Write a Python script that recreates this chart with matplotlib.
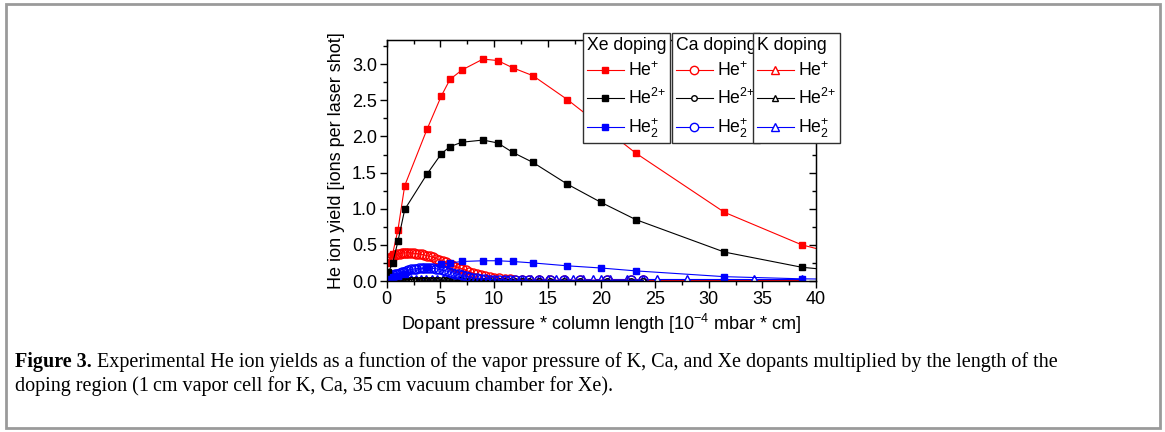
import matplotlib
matplotlib.use("Agg")
import matplotlib.pyplot as plt
from matplotlib.lines import Line2D
from matplotlib.patches import Rectangle
from matplotlib.ticker import MultipleLocator

plt.rcParams['font.family'] = ['Liberation Sans', 'DejaVu Sans']
plt.rcParams['mathtext.default'] = 'regular'

# ---------------- data ----------------
x_xe = [0.15, 0.56, 1.05, 1.68, 3.76, 5.09, 5.90, 7.02, 8.97, 10.34, 11.74, 13.63,
        16.83, 19.94, 23.20, 31.47, 38.68, 45.0]
xe_he1 = [0.25, 0.38, 0.71, 1.32, 2.10, 2.56, 2.79, 2.92, 3.07, 3.05, 2.95, 2.84,
          2.51, 2.15, 1.77, 0.95, 0.50, 0.26]
xe_he2 = [0.12, 0.25, 0.55, 0.99, 1.48, 1.76, 1.86, 1.92, 1.95, 1.91, 1.78, 1.64,
          1.34, 1.09, 0.85, 0.40, 0.19, 0.10]
xe_he2p = [0.03, 0.05, 0.07, 0.10, 0.19, 0.23, 0.25, 0.27, 0.28, 0.28, 0.27, 0.25,
           0.21, 0.18, 0.14, 0.06, 0.03, 0.02]

x_ca = [0.0, 0.2, 0.4, 0.6, 0.8, 1.0, 1.2, 1.4, 1.6, 1.8, 2.0, 2.25, 2.5, 2.75,
        3.0, 3.25, 3.5, 3.75, 4.0, 4.3, 4.6, 4.9, 5.2, 5.5, 5.8, 6.1, 6.4, 6.7,
        7.0, 7.35, 7.7, 8.05, 8.4, 8.8, 9.2, 9.6, 10.0, 10.5, 11.0, 11.5, 12.0,
        12.6, 13.3, 14.2, 15.2, 16.5, 18.0, 20.5, 22.8, 23.9]
ca_he1 = [0.27, 0.30, 0.33, 0.35, 0.36, 0.37, 0.38, 0.385, 0.39, 0.39, 0.39, 0.39,
          0.385, 0.38, 0.375, 0.37, 0.36, 0.35, 0.34, 0.33, 0.31, 0.29, 0.275,
          0.26, 0.24, 0.22, 0.20, 0.185, 0.17, 0.15, 0.13, 0.11, 0.095, 0.08,
          0.065, 0.055, 0.045, 0.035, 0.03, 0.025, 0.02, 0.02, 0.015, 0.015,
          0.01, 0.01, 0.01, 0.01, 0.01, 0.01]
ca_he2 = [0.13, 0.10, 0.08, 0.06, 0.05, 0.04, 0.035, 0.03, 0.025, 0.02, 0.02, 0.02,
          0.015, 0.015, 0.015, 0.01, 0.01, 0.01, 0.01, 0.01, 0.01, 0.01, 0.01,
          0.01, 0.01, 0.01, 0.01, 0.01, 0.01, 0.005, 0.005, 0.005, 0.005, 0.005,
          0.005, 0.005, 0.005, 0.005, 0.005, 0.005, 0.005, 0.005, 0.005, 0.005,
          0.005, 0.005, 0.005, 0.005, 0.005, 0.005]
ca_he2p = [0.05, 0.06, 0.07, 0.08, 0.09, 0.10, 0.11, 0.12, 0.13, 0.14, 0.15, 0.16,
           0.165, 0.17, 0.175, 0.18, 0.18, 0.18, 0.18, 0.175, 0.17, 0.16, 0.15,
           0.14, 0.13, 0.115, 0.10, 0.09, 0.08, 0.065, 0.055, 0.045, 0.035, 0.03,
           0.025, 0.02, 0.015, 0.015, 0.01, 0.01, 0.01, 0.01, 0.01, 0.01, 0.01,
           0.01, 0.01, 0.01, 0.01, 0.01]

x_k = [0.3, 0.6, 0.9, 1.2, 1.5, 1.9, 2.3, 2.7, 3.2, 3.7, 4.2, 4.7, 5.2, 5.7, 6.3,
       6.9, 7.5, 8.1, 8.8, 9.5, 10.2, 10.9, 11.8, 12.6, 13.4, 14.2, 15.0, 15.8,
       16.6, 17.4, 18.3, 19.2, 20.0, 20.8, 22.4, 23.9, 25.2, 28.0, 31.4, 34.2, 38.7]
k_he1 = [0.01] * 41
k_he2 = [0.005] * 41
k_he2p = [0.03] * 41

xticks = [0, 5, 10, 15, 20, 25, 30, 35, 40]
yticks = [0.0, 0.5, 1.0, 1.5, 2.0, 2.5, 3.0]
labels = ['He$^{+}$', 'He$^{2{+}}$', 'He$_{2}^{+}$']
colors = ['red', 'black', 'blue']

FS = 13
LFS = 12.7

# ---------------- figure ----------------
W, H = 1165, 432
fig = plt.figure(figsize=(W / 100, H / 100), dpi=100)
fig.patches.append(Rectangle((6 / W, 4 / H), (1160 - 6) / W, (428 - 4) / H,
                             transform=fig.transFigure, fill=False,
                             edgecolor='#9a9a9a', lw=2))

ax = fig.add_axes([386.7 / W, 1 - 281 / H, (816 - 386.7) / W, (281 - 40.3) / H])

lw = 0.8
# K doping (triangles)
for ys, c in zip([k_he1, k_he2, k_he2p], colors):
    ax.plot(x_k, ys, color=c, lw=lw, marker='^', ms=6, mfc='white', mec=c, mew=1)
# Ca doping (circles)
for ys, c, ms in zip([ca_he1, ca_he2, ca_he2p], colors, [6.5, 4, 6.5]):
    ax.plot(x_ca, ys, color=c, lw=lw, marker='o', ms=ms, mfc='none', mec=c, mew=1)
# Xe doping (squares)
for ys, c in zip([xe_he1, xe_he2, xe_he2p], colors):
    ax.plot(x_xe, ys, color=c, lw=lw, marker='s', ms=5, mfc=c, mec=c)

ax.set_xlim(0, 40)
ax.set_ylim(0, 3.33)
ax.set_xticks(xticks)
ax.set_yticks(yticks)
ax.set_xticklabels([str(v) for v in xticks])
ax.set_yticklabels([f'{v:.1f}' for v in yticks])
ax.xaxis.set_minor_locator(MultipleLocator(2.5))
ax.yaxis.set_minor_locator(MultipleLocator(0.25))
ax.tick_params(which='both', direction='out', labelsize=FS, top=False, right=False)
ax.tick_params(which='major', length=5, width=1, pad=2)
ax.tick_params(which='minor', length=3, width=1)
for s in ax.spines.values():
    s.set_linewidth(1)

# mirrored inward ticks on top/right
axt = ax.secondary_xaxis('top')
axt.set_xticks(xticks)
axt.xaxis.set_minor_locator(MultipleLocator(2.5))
axt.tick_params(which='both', direction='in', labeltop=False)
axt.tick_params(which='major', length=5, width=1)
axt.tick_params(which='minor', length=3, width=1)
axr = ax.secondary_yaxis('right')
axr.set_yticks(yticks)
axr.yaxis.set_minor_locator(MultipleLocator(0.25))
axr.tick_params(which='both', direction='in', labelright=False)
axr.tick_params(which='major', length=5, width=1)
axr.tick_params(which='minor', length=3, width=1)

ax.set_xlabel('Dopant pressure * column length [10$^{-4}$ mbar * cm]', fontsize=FS, labelpad=3)
ax.set_ylabel('He ion yield [ions per laser shot]', fontsize=FS, labelpad=5)

# ---------------- legends ----------------
def make_legend(title, marker, ms_list, filled, x0):
    handles = []
    for c, ms in zip(colors, ms_list):
        handles.append(Line2D([], [], color=c, lw=lw, marker=marker, ms=ms,
                              mfc=c if filled else 'white', mec=c, mew=1))
    leg = fig.legend(handles, labels, title=title, loc='upper left',
                     bbox_to_anchor=(x0 / W, 1 - 33 / H), fontsize=LFS,
                     title_fontsize=LFS, frameon=True, fancybox=False,
                     edgecolor='#303030', framealpha=1, borderpad=0.2,
                     handlelength=2.1, handletextpad=0.25, labelspacing=0.45,
                     borderaxespad=0)
    leg.get_frame().set_linewidth(1)
    leg._legend_box.align = 'left'
    return leg

make_legend('Xe doping', 's', [5, 5, 5], True, 583)
make_legend('Ca doping', 'o', [6, 4, 6], False, 672)
make_legend('K doping', '^', [6, 5, 6], False, 753)

# ---------------- caption ----------------
CFS = 14.5
serif = ['Liberation Serif', 'DejaVu Serif']
t1 = fig.text(15 / W, 1 - 362 / H, 'Figure 3.', fontsize=CFS, fontweight='bold',
              family=serif, va='center', ha='left')
ax.annotate(' Experimental He ion yields as a function of the vapor pressure of K, Ca, '
            'and Xe dopants multiplied by the length of the',
            xy=(1, 0), xycoords=t1, va='bottom', ha='left', fontsize=CFS,
            family=serif, annotation_clip=False)
fig.text(15 / W, 1 - 386 / H,
         'doping region (1\u2009cm vapor cell for K, Ca, 35\u2009cm vacuum chamber for Xe).',
         fontsize=CFS, family=serif, va='center', ha='left')

fig.savefig('out.png', dpi=100)
